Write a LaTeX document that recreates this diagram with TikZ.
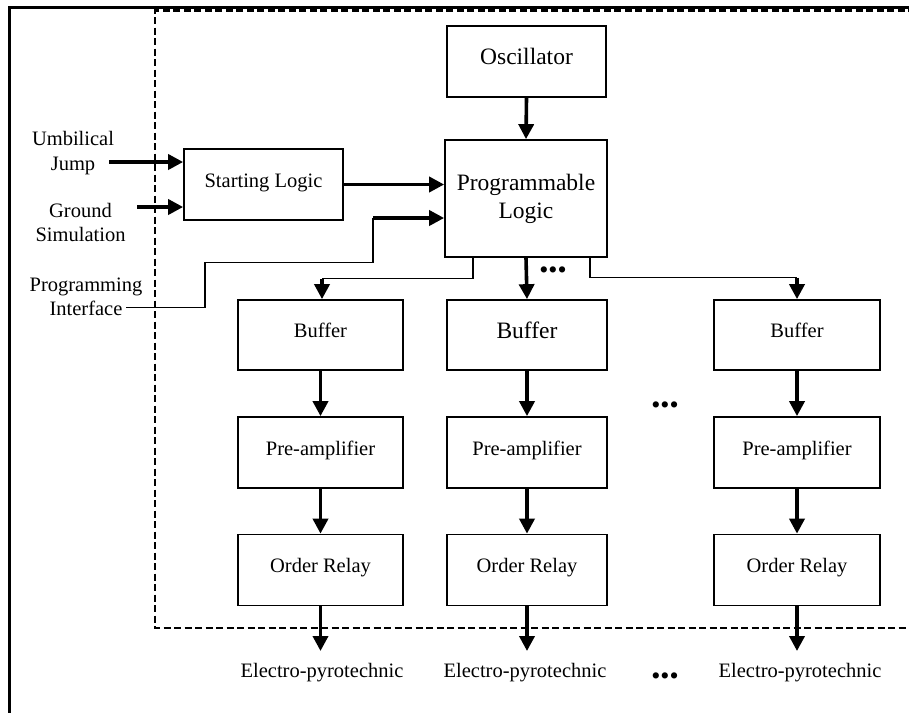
\documentclass[tikz,border=0pt]{standalone}
\usepackage{fontspec}
\setmainfont{Liberation Serif}
\usetikzlibrary{arrows.meta,calc}
\newcommand\fsnorm{\fontsize{20.5}{24.5}\selectfont}
\newcommand\fsbig{\fontsize{23.5}{28}\selectfont}
\newcommand\fsdots{\fontsize{26}{26}\selectfont}
\begin{document}
\begin{tikzpicture}[x=1pt,y=-1pt,
  box/.style={draw, line width=1.7pt, inner sep=0pt, text height=14pt, text depth=9pt, font=\fsnorm},
  bigbox/.style={box, text height=16pt, text depth=10pt, font=\fsbig},
  thinline/.style={line width=1.7pt},
  arr/.style={line width=3.6pt, -{Triangle[length=15pt,width=15pt]}},
  lab/.style={align=center, font=\fsnorm, inner sep=0pt},
  dots/.style={font=\fsdots, inner sep=0pt},
  frame/.style={line width=3pt},
  border/.style={line width=2.8pt, dash pattern=on 7pt off 3.5pt}]
\useasboundingbox (0,0) rectangle (909,713);
% outer frame and dashed enclosure
\draw[frame] (909,7) -- (9,7) -- (9,713);
\draw[border] (915,10.5) -- (155,10.5) -- (155,628) -- (915,628);

% main nodes
\node[bigbox, minimum width=159pt, minimum height=71pt] (osc) at (526.5,61.5) {Oscillator};
\node[box, align=center, font=\fsbig, text height=, text depth=, minimum width=162pt, minimum height=117pt] (pl) at (526,198.5) {Programmable\\Logic};
\node[box, minimum width=159pt, minimum height=71pt] (sl) at (263.5,184.5) {Starting Logic};

\node[box, minimum width=165pt, minimum height=70pt] (b1) at (320.5,335) {Buffer};
\node[bigbox, minimum width=160pt, minimum height=70pt] (b2) at (527,335) {Buffer};
\node[box, minimum width=166pt, minimum height=70pt] (b3) at (797,335) {Buffer};

\node[box, minimum width=165pt, minimum height=71pt] (p1) at (320.5,452.5) {Pre-amplifier};
\node[box, minimum width=160pt, minimum height=71pt] (p2) at (527,452.5) {Pre-amplifier};
\node[box, minimum width=166pt, minimum height=71pt] (p3) at (797,452.5) {Pre-amplifier};

\node[box, minimum width=165pt, minimum height=71pt] (o1) at (320.5,570) {Order Relay};
\node[box, minimum width=160pt, minimum height=71pt] (o2) at (527,570) {Order Relay};
\node[box, minimum width=166pt, minimum height=71pt] (o3) at (797,570) {Order Relay};

% outputs
\node[lab, anchor=base] (e1) at (322,677) {Electro-pyrotechnic};
\node[lab, anchor=base] (e2) at (525,677) {Electro-pyrotechnic};
\node[lab, anchor=base] (e3) at (800,677) {Electro-pyrotechnic};

% inputs
\node[lab] (uj) at (73,153) {Umbilical\\Jump};
\node[lab] (gs) at (80.5,222.5) {Ground\\Simulation};
\node[lab] (pi) at (86,297) {Programming\\Interface};

% dots
\node[dots] (d1) at (553,273) {•••};
\node[dots] (d2) at (665,408) {•••};
\node[dots] (d3) at (665,679) {•••};

% coordinates
\coordinate (ujs) at (109,162);
\coordinate (gss) at (137,207);
\coordinate (pis) at (126,307.5);
\coordinate (pia) at (205,307.5);
\coordinate (pib) at (205,262.5);
\coordinate (pic) at (373,262.5);
\coordinate (pid) at (373,218);
\coordinate (la) at (473,257);
\coordinate (lb) at (473,278.5);
\coordinate (lc) at (322,278.5);
\coordinate (ra) at (590,257);
\coordinate (rb) at (590,277.5);
\coordinate (rc) at (797,277.5);

% input arrows
\draw[arr] (ujs) -- (ujs -| sl.west);
\draw[arr] (gss) -- (gss -| sl.west);
\draw[arr] (sl.east) -- (sl.east -| pl.west);
\draw[thinline] (pis) -- (pia) -- (pib) -- (pic) -- (pid);
\draw[arr] (pid) -- (pid -| pl.west);
\draw[arr] (osc.south) -- (pl.north);

% distribution
\draw[arr] (pl.south) -- (b2.north);
\draw[thinline] (la) -- (lb) -- (lc);
\draw[arr] (lc) -- (lc |- b1.north);
\draw[thinline] (ra) -- (rb) -- (rc);
\draw[arr] (rc) -- (rc |- b3.north);

% chains
\foreach \i in {1,2,3}{
  \draw[arr] (b\i.south) -- (p\i.north);
  \draw[arr] (p\i.south) -- (o\i.north);
  \draw[arr] (o\i.south) -- (o\i.south |- 0,651);
}
\end{tikzpicture}
\end{document}
